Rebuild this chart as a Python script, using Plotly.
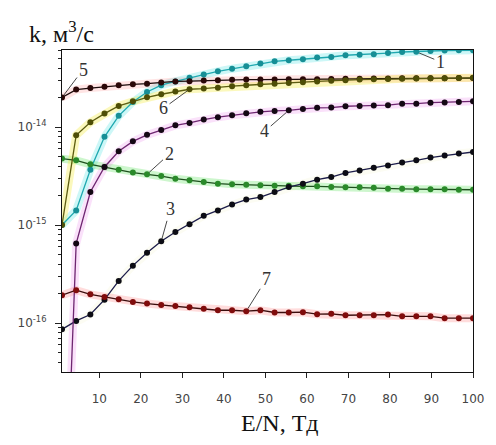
import math
import plotly.graph_objects as go

# E/N, Td (30 calculation points)
en = [1.0, 4.41, 7.83, 11.24, 14.66, 18.07, 21.48, 24.9, 28.31, 31.72,
      35.14, 38.55, 41.97, 45.38, 48.79, 52.21, 55.62, 59.03, 62.45, 65.86,
      69.28, 72.69, 76.1, 79.52, 82.93, 86.34, 89.76, 93.17, 96.59, 100.0]

k1 = [1.0e-15, 1.41e-15, 3.67e-15, 7.94e-15, 1.30e-14, 1.80e-14, 2.28e-14, 2.67e-14, 2.92e-14, 3.19e-14,
      3.43e-14, 3.70e-14, 3.94e-14, 4.16e-14, 4.44e-14, 4.68e-14, 4.80e-14, 4.91e-14, 5.11e-14, 5.18e-14,
      5.40e-14, 5.48e-14, 5.52e-14, 5.69e-14, 5.83e-14, 5.86e-14, 5.97e-14, 6.04e-14, 6.07e-14, 6.07e-14]
k2 = [4.76e-15, 4.57e-15, 4.16e-15, 3.91e-15, 3.67e-15, 3.43e-15, 3.29e-15, 3.16e-15, 2.97e-15, 2.86e-15,
      2.75e-15, 2.64e-15, 2.60e-15, 2.57e-15, 2.54e-15, 2.51e-15, 2.51e-15, 2.48e-15, 2.48e-15, 2.45e-15,
      2.43e-15, 2.43e-15, 2.40e-15, 2.34e-15, 2.34e-15, 2.32e-15, 2.32e-15, 2.32e-15, 2.29e-15, 2.29e-15]
k3 = [8.61e-17, 1.05e-16, 1.22e-16, 1.73e-16, 2.69e-16, 3.85e-16, 5.22e-16, 6.82e-16, 8.49e-16, 1.02e-15,
      1.24e-15, 1.41e-15, 1.62e-15, 1.82e-15, 1.93e-15, 2.17e-15, 2.44e-15, 2.64e-15, 2.90e-15, 3.09e-15,
      3.40e-15, 3.61e-15, 3.85e-15, 4.06e-15, 4.34e-15, 4.57e-15, 4.88e-15, 5.11e-15, 5.36e-15, 5.56e-15]
k4 = [1.0e-19, 6.46e-16, 2.17e-15, 3.91e-15, 5.65e-15, 7.14e-15, 8.32e-15, 9.35e-15, 1.04e-14, 1.10e-14,
      1.19e-14, 1.26e-14, 1.32e-14, 1.38e-14, 1.43e-14, 1.46e-14, 1.48e-14, 1.53e-14, 1.57e-14, 1.58e-14,
      1.63e-14, 1.64e-14, 1.66e-14, 1.67e-14, 1.73e-14, 1.73e-14, 1.77e-14, 1.78e-14, 1.80e-14, 1.83e-14]
k5 = [2.00e-14, 2.41e-14, 2.50e-14, 2.58e-14, 2.67e-14, 2.73e-14, 2.77e-14, 2.84e-14, 2.92e-14, 2.94e-14,
      2.98e-14, 3.00e-14, 3.03e-14, 3.05e-14, 3.05e-14, 3.05e-14, 3.07e-14, 3.07e-14, 3.08e-14, 3.09e-14,
      3.10e-14, 3.10e-14, 3.12e-14, 3.13e-14, 3.14e-14, 3.14e-14, 3.15e-14, 3.15e-14, 3.16e-14, 3.16e-14]
k6 = [1.0e-15, 8.22e-15, 1.12e-14, 1.37e-14, 1.64e-14, 1.83e-14, 2.01e-14, 2.16e-14, 2.31e-14, 2.43e-14,
      2.47e-14, 2.52e-14, 2.61e-14, 2.67e-14, 2.73e-14, 2.77e-14, 2.82e-14, 2.87e-14, 2.92e-14, 2.97e-14,
      3.01e-14, 3.05e-14, 3.07e-14, 3.09e-14, 3.10e-14, 3.12e-14, 3.14e-14, 3.15e-14, 3.16e-14, 3.18e-14]
k7 = [1.92e-16, 2.16e-16, 1.96e-16, 1.84e-16, 1.75e-16, 1.64e-16, 1.58e-16, 1.53e-16, 1.49e-16, 1.45e-16,
      1.40e-16, 1.35e-16, 1.35e-16, 1.32e-16, 1.35e-16, 1.28e-16, 1.28e-16, 1.29e-16, 1.23e-16, 1.24e-16,
      1.20e-16, 1.20e-16, 1.20e-16, 1.22e-16, 1.17e-16, 1.17e-16, 1.17e-16, 1.12e-16, 1.12e-16, 1.12e-16]

labels = ["1", "2", "3", "4", "5", "6", "7"]
series = [k1, k2, k3, k4, k5, k6, k7]

x_ticks = [10, 20, 30, 40, 50, 60, 70, 80, 90, 100]
y_tickvals = [1e-16, 1e-15, 1e-14]
y_ticktext = ["10<sup>-16</sup>", "10<sup>-15</sup>", "10<sup>-14</sup>"]
minor_decades = [1e-17, 1e-16, 1e-15, 1e-14]
minor_digits = [2, 3, 4, 5, 6, 7, 8, 9]

# styling: (line colour, marker colour, glow colour)
styles = [
    ("#1fa8b0", "#168f96", "rgba(60,225,225,0.26)"),
    ("#1d4f1d", "#2a8a2a", "rgba(90,225,90,0.30)"),
    ("#1c1c4a", "#0c0c14", "rgba(230,230,160,0.12)"),
    ("#6e2670", "#140814", "rgba(235,130,235,0.24)"),
    ("#1a0a0a", "#2a0808", "rgba(255,130,130,0.22)"),
    ("#5c5c10", "#4e4e06", "rgba(245,235,70,0.36)"),
    ("#3a0c0c", "#800c0c", "rgba(255,110,110,0.24)"),
]

# label: (point index, ax, ay)
label_pos = [(25, 24, 10), (6, 22, -20), (7, 9, -32), (16, -24, 21),
             (0, 21, -28), (9, -26, 19), (13, 20, -32)]

fig = go.Figure()
for ys, (lc, mc, gc) in zip(series, styles):
    fig.add_trace(go.Scatter(x=en, y=ys, mode="lines", line=dict(color=gc, width=8),
                             hoverinfo="skip", showlegend=False))
for lab, ys, (lc, mc, gc) in zip(labels, series, styles):
    fig.add_trace(go.Scatter(x=en, y=ys, mode="lines+markers", name=lab,
                             line=dict(color=lc, width=1.3),
                             marker=dict(color=mc, size=6), showlegend=False))

for lab, ys, (idx, ax, ay) in zip(labels, series, label_pos):
    fig.add_annotation(x=en[idx], y=math.log10(ys[idx]), text=lab, showarrow=True,
                       arrowhead=0, arrowwidth=0.9, arrowcolor="#333", ax=ax, ay=ay,
                       standoff=3,
                       font=dict(family="Liberation Serif", size=18, color="#333"))

fig.add_annotation(xref="paper", yref="paper", x=-0.085, y=1.003, xanchor="left", yanchor="bottom",
                   text="k, м<sup>3</sup>/с", showarrow=False,
                   font=dict(family="Liberation Serif", size=24, color="#111"))
fig.add_annotation(xref="paper", yref="paper", x=0.531, y=-0.158, xanchor="center", yanchor="middle",
                   text="E/N, Тд", showarrow=False,
                   font=dict(family="Liberation Serif", size=24, color="#111"))

fig.update_xaxes(range=[1, 100], tickvals=x_ticks, ticks="outside", ticklen=5, tickcolor="#222",
                 showline=True, linecolor="#111", linewidth=1.2, mirror=True, showgrid=False,
                 zeroline=False, ticklabelstandoff=10,
                 tickfont=dict(family="DejaVu Sans", size=12, color="#444"))
fig.update_yaxes(type="log", range=[-16.5, -13.214], tickvals=y_tickvals, ticktext=y_ticktext,
                 ticks="outside", ticklen=6, tickcolor="#222",
                 minor=dict(ticks="outside", ticklen=3, tickcolor="#222", showgrid=False,
                            tickmode="array",
                            tickvals=[d * m for d in minor_decades for m in minor_digits]),
                 showline=True, linecolor="#111", linewidth=1.2, mirror=True, showgrid=False,
                 zeroline=False, ticklabelstandoff=6,
                 tickfont=dict(family="DejaVu Sans", size=12, color="#444"))
fig.update_layout(width=496, height=445, margin=dict(l=62, r=14, t=50, b=73),
                  plot_bgcolor="white", paper_bgcolor="white")
fig.write_html("out.html", config={"displayModeBar": False},
               post_script="document.body.style.margin='0';")
